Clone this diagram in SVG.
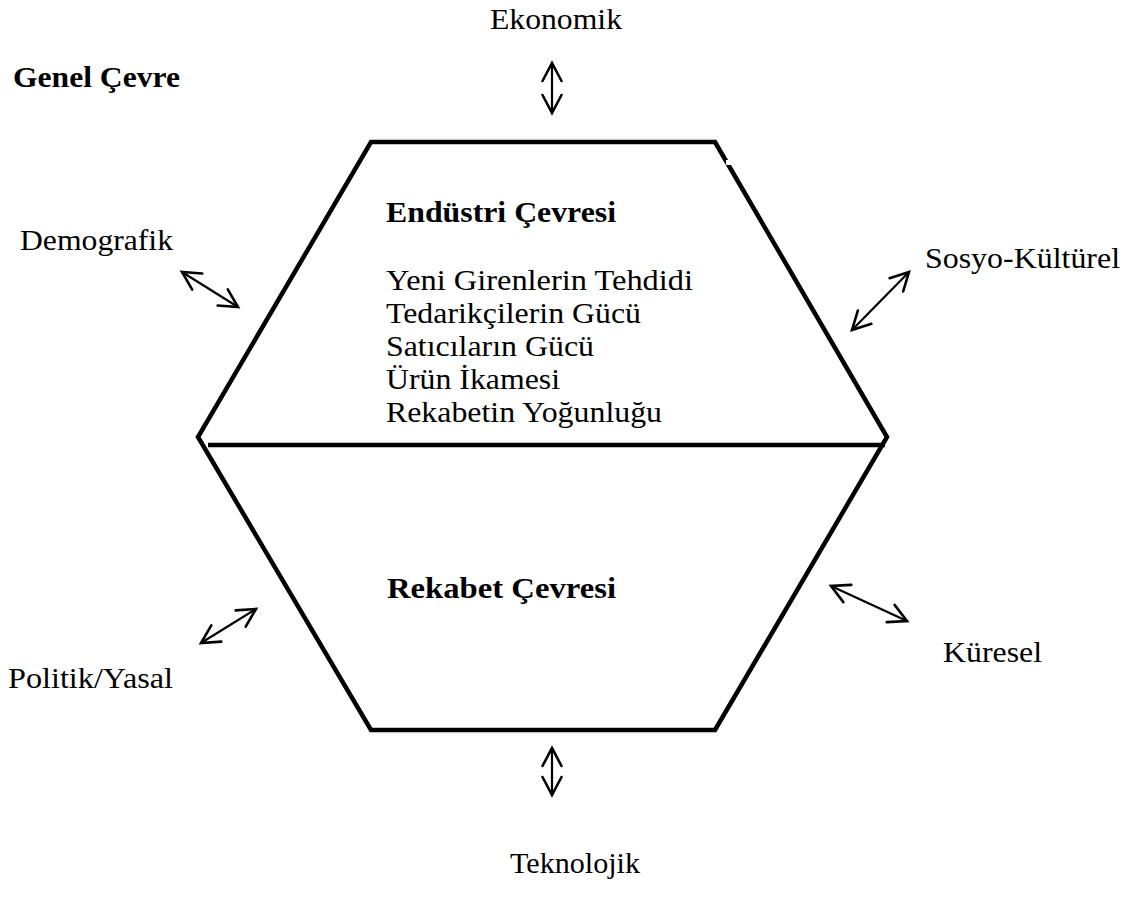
<svg xmlns="http://www.w3.org/2000/svg" width="1134" height="918" viewBox="0 0 1134 918">
<defs>
<marker id="ah" markerUnits="userSpaceOnUse" markerWidth="24" markerHeight="24" viewBox="0 0 24 24" refX="21" refY="12" orient="auto-start-reverse">
<path d="M3,2.5 L21,12 L3,21.5" fill="none" stroke="#000" stroke-width="2.6" stroke-linecap="round" stroke-linejoin="miter"/>
</marker>
<filter id="sh" x="-5%" y="-100%" width="110%" height="400%"><feGaussianBlur stdDeviation="1.5"/></filter>
</defs>
<style>
text{font-family:"Liberation Serif","Times New Roman",serif;font-size:29px;fill:#000}
.b{font-weight:bold}
.shape{fill:none;stroke:#000;stroke-width:4.5;stroke-linejoin:miter}
.conn{stroke:#000;stroke-width:2.2;fill:none;marker-start:url(#ah);marker-end:url(#ah)}
</style>
<rect width="1134" height="918" fill="#fff"/>
<g id="hexagon">
<polygon class="shape" points="371,142 715,142 887,437 715,730 371,730 198,437"/>
<rect x="726" y="160" width="6" height="5" fill="#fff"/>
</g>
<g id="divider">
<line x1="212" y1="449" x2="883" y2="449" stroke="#999" stroke-width="4" filter="url(#sh)"/>
<line x1="208" y1="445" x2="885" y2="445" stroke="#000" stroke-width="4.5"/>
</g>
<g id="connectors">
<line class="conn" x1="552" y1="63" x2="552" y2="113"/>
<line class="conn" x1="552" y1="748" x2="552" y2="795"/>
<line class="conn" x1="182" y1="272" x2="238" y2="307"/>
<line class="conn" x1="909" y1="272" x2="852" y2="330"/>
<line class="conn" x1="201" y1="643" x2="256" y2="609"/>
<line class="conn" x1="831" y1="586" x2="907" y2="621"/>
</g>
<g id="genel"><text class="b" x="13" y="87" textLength="167" lengthAdjust="spacingAndGlyphs">Genel Çevre</text></g>
<g id="ekonomik"><text x="490" y="29" textLength="132" lengthAdjust="spacingAndGlyphs">Ekonomik</text></g>
<g id="demografik"><text x="20" y="250" textLength="153" lengthAdjust="spacingAndGlyphs">Demografik</text></g>
<g id="sosyo"><text x="925" y="268" textLength="195" lengthAdjust="spacingAndGlyphs">Sosyo-Kültürel</text></g>
<g id="endustri">
<text class="b" x="386" y="222" textLength="230" lengthAdjust="spacingAndGlyphs">Endüstri Çevresi</text>
<text x="386" y="290" textLength="307" lengthAdjust="spacingAndGlyphs">Yeni Girenlerin Tehdidi</text>
<text x="386" y="323" textLength="255" lengthAdjust="spacingAndGlyphs">Tedarikçilerin Gücü</text>
<text x="386" y="356" textLength="208" lengthAdjust="spacingAndGlyphs">Satıcıların Gücü</text>
<text x="386" y="389" textLength="174" lengthAdjust="spacingAndGlyphs">Ürün İkamesi</text>
<text x="386" y="422" textLength="276" lengthAdjust="spacingAndGlyphs">Rekabetin Yoğunluğu</text>
</g>
<g id="rekabet"><text class="b" x="387" y="598" textLength="229" lengthAdjust="spacingAndGlyphs">Rekabet Çevresi</text></g>
<g id="politik"><text x="8" y="688" textLength="165" lengthAdjust="spacingAndGlyphs">Politik/Yasal</text></g>
<g id="kuresel"><text x="943" y="662" textLength="99" lengthAdjust="spacingAndGlyphs">Küresel</text></g>
<g id="teknolojik"><text x="510" y="873" textLength="130" lengthAdjust="spacingAndGlyphs">Teknolojik</text></g>
</svg>
